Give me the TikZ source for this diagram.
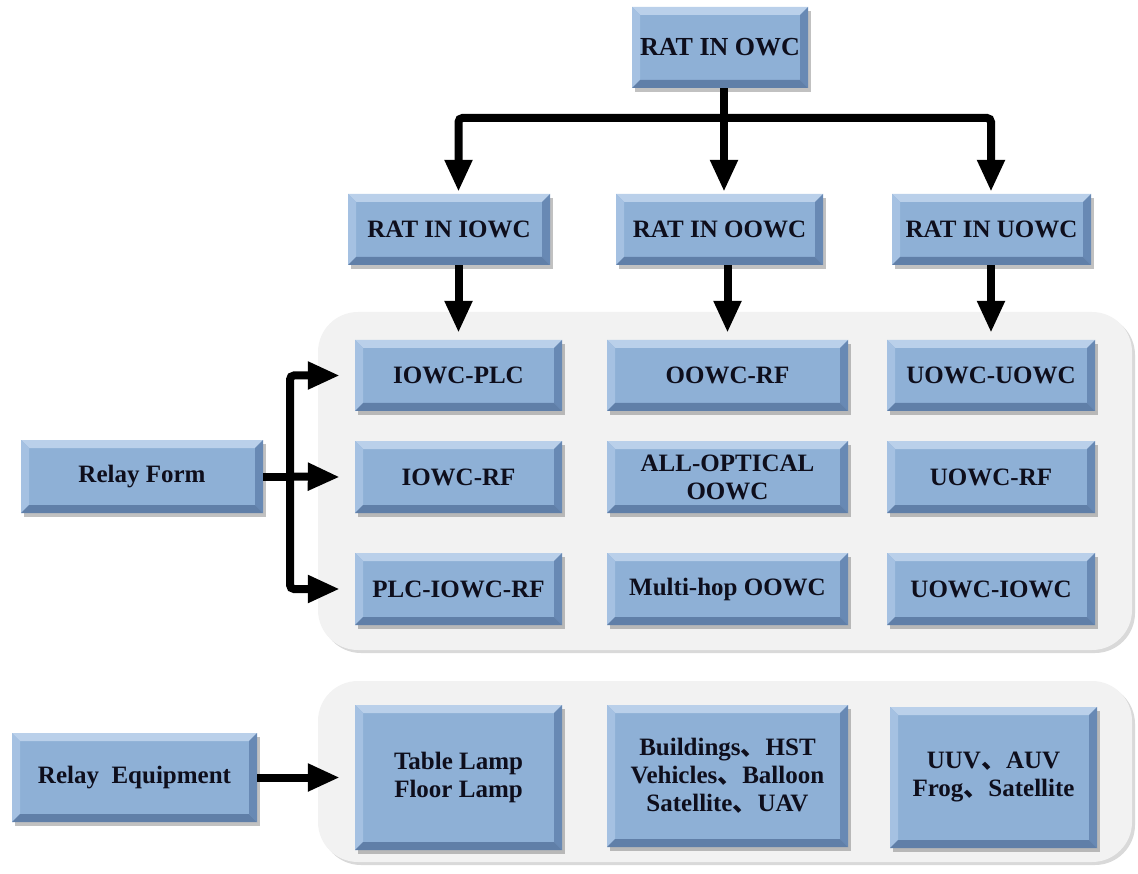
\documentclass[tikz,border=0pt]{standalone}
\usepackage{fontspec}
\setmainfont{Liberation Serif}
\newfontfamily\cjk{Noto Sans CJK SC}
\usetikzlibrary{arrows.meta,shadows,calc}
\definecolor{boxblue}{RGB}{142,176,214}
\definecolor{bevtop}{RGB}{186,208,234}
\definecolor{bevleft}{RGB}{165,193,226}
\definecolor{bevright}{RGB}{104,137,180}
\definecolor{bevbot}{RGB}{96,127,168}
\definecolor{panelgray}{RGB}{242,242,242}
\definecolor{txt}{RGB}{14,14,28}
\newcommand{\dnm}{{\cjk 、}}
\def\PB{path picture bounding box}
\tikzset{
  bx/.style={rectangle, fill=boxblue, inner sep=0pt, align=center, text=txt,
    font=\bfseries\fontsize{25}{28}\selectfont,
    drop shadow={shadow xshift=3pt, shadow yshift=-4pt, opacity=0.35, fill=black!70},
    path picture={
      \fill[bevtop] (\PB.north west) -- (\PB.north east) -- ([shift={(-8pt,-8pt)}]\PB.north east) -- ([shift={(8pt,-8pt)}]\PB.north west) -- cycle;
      \fill[bevleft] (\PB.north west) -- ([shift={(8pt,-8pt)}]\PB.north west) -- ([shift={(8pt,8pt)}]\PB.south west) -- (\PB.south west) -- cycle;
      \fill[bevright] (\PB.north east) -- ([shift={(-8pt,-8pt)}]\PB.north east) -- ([shift={(-8pt,8pt)}]\PB.south east) -- (\PB.south east) -- cycle;
      \fill[bevbot] (\PB.south west) -- ([shift={(8pt,8pt)}]\PB.south west) -- ([shift={(-8pt,8pt)}]\PB.south east) -- (\PB.south east) -- cycle;
    }},
  panel/.style={fill=panelgray, rounded corners=40pt,
    drop shadow={shadow xshift=3pt, shadow yshift=-3pt, opacity=0.25, fill=black!60}},
  ln/.style={line width=8pt, black},
  arr/.style={line width=8pt, black, -{Triangle[length=32pt,width=26pt]}},
}
\begin{document}
\begin{tikzpicture}[x=1pt,y=-1pt]
\useasboundingbox (0,0) rectangle (1138,874);
% panels
\path[panel] (318,312) rectangle (1132,650);
\path[panel] (318,681) rectangle (1132,862);
% top levels
\node[bx, minimum width=176pt, minimum height=81pt, font=\bfseries\fontsize{26}{28}\selectfont] (owc) at (720,47.5) {RAT IN OWC};
\node[bx, minimum width=202pt, minimum height=71pt] (iowc) at (449,229.5) {RAT IN IOWC};
\node[bx, minimum width=207pt, minimum height=71pt] (oowc) at (719.5,229.5) {RAT IN OOWC};
\node[bx, minimum width=199pt, minimum height=71pt] (uowc) at (991.5,229.5) {RAT IN UOWC};
% relay form rows
\node[bx, minimum width=207pt, minimum height=71pt] (iplc) at (458.5,375.5) {IOWC-PLC};
\node[bx, minimum width=241pt, minimum height=71pt] (orf) at (727.5,375.5) {OOWC-RF};
\node[bx, minimum width=208pt, minimum height=71pt] (uu) at (991,375.5) {UOWC-UOWC};
\node[bx, minimum width=207pt, minimum height=72pt] (irf) at (458.5,477) {IOWC-RF};
\node[bx, minimum width=241pt, minimum height=72pt] (allopt) at (727.5,477) {ALL-OPTICAL\\OOWC};
\node[bx, minimum width=208pt, minimum height=72pt] (urf) at (991,477) {UOWC-RF};
\node[bx, minimum width=207pt, minimum height=72pt] (pir) at (458.5,589) {PLC-IOWC-RF};
\node[bx, minimum width=241pt, minimum height=72pt] (mh) at (727.5,589) {Multi-hop OOWC};
\node[bx, minimum width=208pt, minimum height=72pt] (ui) at (991,589) {UOWC-IOWC};
\node[bx, minimum width=242pt, minimum height=73pt] (rf) at (142,476.5) {Relay Form};
% equipment
\node[bx, minimum width=245pt, minimum height=89pt] (re) at (134.5,777.5) {Relay\ \ Equipment};
\node[bx, minimum width=207pt, minimum height=145pt] (tl) at (458.5,777.5) {Table Lamp\\Floor Lamp};
\node[bx, minimum width=241pt, minimum height=142pt] (bd) at (727.5,776) {Buildings\dnm HST\\Vehicles\dnm Balloon\\Satellite\dnm UAV};
\node[bx, minimum width=207pt, minimum height=141pt] (uv) at (993.5,777.5) {UUV\dnm AUV\\Frog\dnm Satellite};
% connectors top
\coordinate (j) at (724,118);
\draw[ln] (owc.south -| j) -- (j);
\draw[arr, rounded corners=4pt] (j) -| ([yshift=2pt]iplc.north |- iowc.north);
\draw[arr] (j) -- ([yshift=2pt]j |- oowc.north);
\draw[arr, rounded corners=4pt] (j) -| ([yshift=2pt]uu.north |- uowc.north);
% second level
\draw[arr] (iowc.south -| iplc.north) -- ([yshift=7pt]iplc.north);
\draw[arr] (oowc.south -| orf.north) -- ([yshift=7pt]orf.north);
\draw[arr] (uowc.south -| uu.north) -- ([yshift=7pt]uu.north);
% relay form
\coordinate (v) at (290,0);
\draw[ln] (rf.east) -- (rf.east -| v);
\draw[arr] (rf.east -| v) -- ([xshift=-15pt]irf.west);
\draw[arr, rounded corners=4pt] (rf.east -| v) |- ([xshift=-15pt]iplc.west);
\draw[arr, rounded corners=4pt] (rf.east -| v) |- ([xshift=-15pt]pir.west);
% relay equipment
\draw[arr] (re.east) -- ([xshift=-15pt]tl.west);
\end{tikzpicture}
\end{document}
